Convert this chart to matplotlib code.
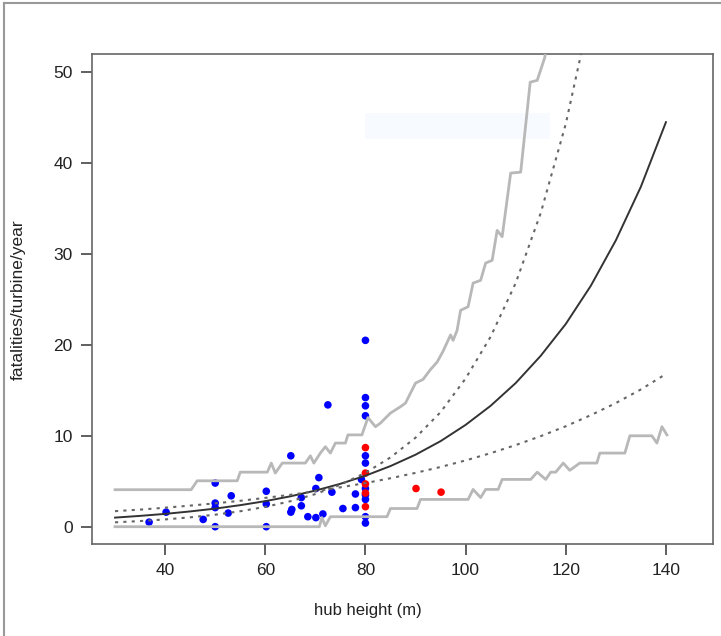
import matplotlib
matplotlib.use("Agg")
import matplotlib.pyplot as plt
from matplotlib.lines import Line2D
from matplotlib.patches import Rectangle

# observed fatalities, blue = one group, red = the other
blue_x = [36.8, 40.2, 47.6, 50, 50, 50, 50, 52.6, 53.2, 60.2, 60.2, 60.2,
          65.1, 65.1, 65.3, 67.2, 67.2, 68.5, 70.1, 70.1, 70.7, 71.5, 72.5,
          73.3, 75.5, 78, 78, 79.2, 80, 80, 80, 80, 80, 80, 80, 80, 80, 80, 80]
blue_y = [0.5, 1.6, 0.8, 4.8, 2.6, 2.1, 0.0, 1.5, 3.4, 3.9, 2.5, 0.0,
          7.8, 1.6, 1.9, 3.2, 2.3, 1.1, 1.0, 4.2, 5.4, 1.4, 13.4,
          3.8, 2.0, 2.1, 3.6, 5.2, 20.5, 14.2, 13.3, 12.2, 7.8, 7.0, 4.2, 3.5, 3.0, 1.1, 0.4]
red_x = [80, 80, 80, 80, 80, 90.1, 95.1]
red_y = [8.7, 5.9, 4.7, 3.7, 2.2, 4.2, 3.8]

curve_x = [30, 35, 40, 45, 50, 55, 60, 65, 70, 75, 80, 85, 90, 95, 100,
           105, 110, 115, 120, 125, 130, 135, 140]
fit_y = [1.00, 1.19, 1.41, 1.68, 1.99, 2.37, 2.81, 3.34, 3.97, 4.72, 5.61, 6.67,
         7.92, 9.41, 11.2, 13.3, 15.8, 18.8, 22.3, 26.5, 31.5, 37.4, 44.5]
ci_hi_y = [0.48, 0.62, 0.80, 1.03, 1.32, 1.70, 2.18, 2.80, 3.59, 4.62, 5.93, 7.62,
           9.79, 12.6, 16.3, 20.9, 26.8, 34.5, 44.3, 56.9, 73.0, 93.0, 119.0]
ci_lo_y = [1.71, 1.88, 2.09, 2.32, 2.57, 2.85, 3.17, 3.51, 3.90, 4.33, 4.80, 5.33,
           5.92, 6.57, 7.29, 8.09, 8.98, 9.96, 11.05, 12.27, 13.6, 15.1, 16.8]

# prediction envelope (stepped grey lines)
env_hi_x = [30, 45.2, 46.4, 54.4, 55, 60.4, 61.2, 62, 63.4, 68, 69, 69.7, 71, 72, 73,
            74, 76, 76.5, 79.3, 80.5, 82, 83, 85, 87, 88, 89, 90, 91.5, 93, 94.3,
            95.5, 97, 97.5, 98.3, 99, 100.5, 101.5, 103, 104, 105.3, 106.3, 107.3,
            109, 111, 112.9, 114.3, 115.8, 117]
env_hi_y = [4.07, 4.07, 5.05, 5.05, 6.0, 6.0, 7.0, 5.9, 7.0, 7.0, 7.8, 7.0, 8.1, 8.8, 8.1,
            9.2, 9.2, 10.1, 10.1, 12.0, 11.0, 11.4, 12.5, 13.2, 13.6, 14.7, 15.8, 16.2, 17.3, 18.1,
            19.3, 21.1, 20.5, 21.6, 23.8, 24.2, 26.8, 27.1, 29.0, 29.3, 32.6, 31.9,
            38.9, 39.0, 48.9, 49.1, 51.6, 56.0]
env_lo_x = [30, 70.8, 71.3, 72, 73, 84.3, 85, 90.3, 91, 100.5, 101.5, 103, 104, 106.5,
            107.3, 113, 114.3, 116, 117, 118, 119.5, 120.8, 122.8, 126.2, 126.8, 131.8,
            132.8, 137.2, 138.2, 139.2, 140.2]
env_lo_y = [0.0, 0.0, 1.0, 0.1, 1.1, 1.1, 2.0, 2.0, 3.0, 3.0, 4.1, 3.2, 4.1, 4.1,
            5.2, 5.2, 6.0, 5.2, 6.0, 6.0, 7.0, 6.2, 7.0, 7.0, 8.1, 8.1,
            10.0, 10.0, 9.2, 11.0, 10.1]

x_ticks = [40, 60, 80, 100, 120, 140]
y_ticks = [0, 10, 20, 30, 40, 50]


def plot_fatalities():

    plt.rcParams['font.family'] = ['Liberation Sans', 'DejaVu Sans']
    fig = plt.figure(figsize=(7.21, 6.36), dpi=100)
    ax = fig.add_axes([0.1276, 0.1447, 0.8613, 0.7704])

    # very faint box left over in the original picture
    ax.add_patch(Rectangle((79.9, 42.7), 36.9, 2.8, facecolor='#f7fafe',
                           edgecolor='none', zorder=0))

    ax.scatter(blue_x, blue_y, s=30, c='#0000ff', edgecolors='none', zorder=2)
    ax.scatter(red_x, red_y, s=30, c='#ff0000', edgecolors='none', zorder=2)

    ax.plot(env_hi_x, env_hi_y, color='#b8b8b8', lw=2, zorder=3)
    ax.plot(env_lo_x, env_lo_y, color='#b8b8b8', lw=2, zorder=3)

    ax.plot(curve_x, fit_y, color='#333333', lw=1.4, zorder=4)
    ax.plot(curve_x, ci_hi_y, color='#666666', lw=1.5, ls=(0, (1.5, 2.5)), zorder=4)
    ax.plot(curve_x, ci_lo_y, color='#666666', lw=1.5, ls=(0, (1.5, 2.5)), zorder=4)

    ax.set_xlim(25.4, 149.4)
    ax.set_ylim(-1.9, 52)
    ax.set_xticks(x_ticks)
    ax.set_yticks(y_ticks)
    ax.tick_params(direction='out', length=8, width=1.2, color='#444444',
                   labelsize=12.5, labelcolor='#222222', pad=6)
    for sp in ax.spines.values():
        sp.set_color('#666666')
        sp.set_linewidth(1.2)

    fig.text(368 / 721, 1 - 610 / 636, 'hub height (m)', ha='center', va='center',
             fontsize=12, color='#222222')
    fig.text(18 / 721, 1 - 300 / 636, 'fatalities/turbine/year', ha='center', va='center',
             rotation=90, fontsize=12.5, color='#222222')

    # thin frame round the screenshot (top and left)
    fig.add_artist(Line2D([0.006, 1], [0.995, 0.995], color='#999999', lw=1.5))
    fig.add_artist(Line2D([0.006, 0.006], [0, 0.995], color='#999999', lw=1.5))

    fig.savefig('out.png', dpi=100)


def main():
    plot_fatalities()


if __name__ == "__main__":
    main()
